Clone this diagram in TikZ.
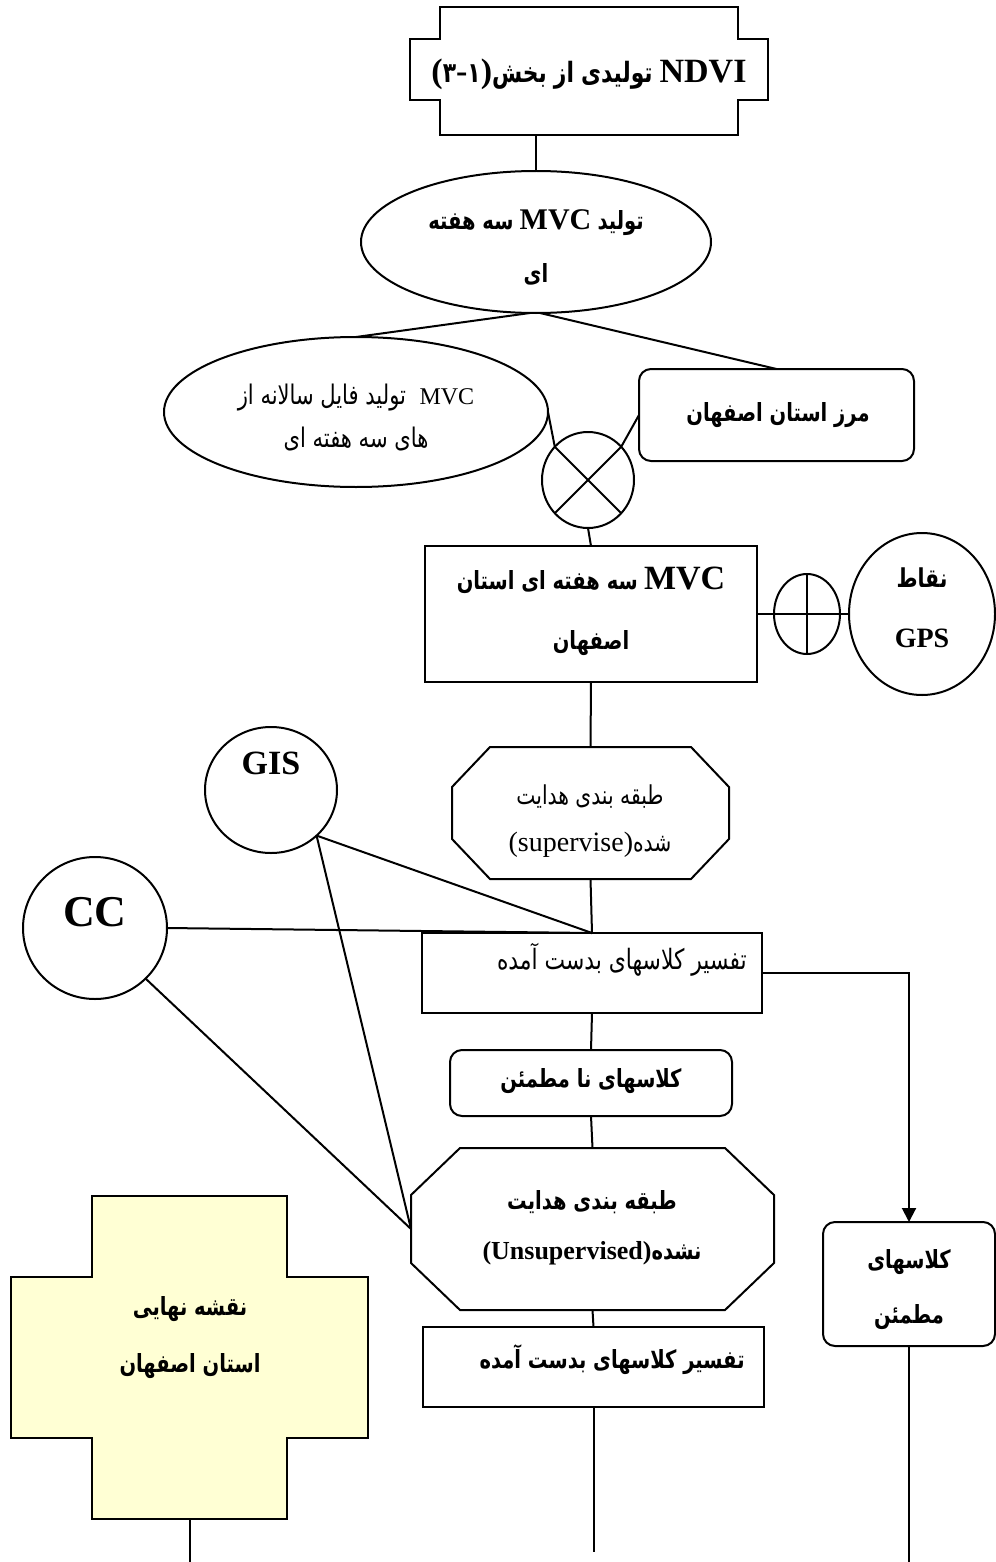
\documentclass[tikz,border=0pt]{standalone}
\usepackage{fontspec}
\setmainfont{Liberation Serif}
\newfontfamily\fa[Script=Arabic,FakeStretch=0.78]{DejaVu Sans}
\TeXXeTstate=1
\usetikzlibrary{calc,arrows.meta,shapes.geometric}
\newcommand\pb[1]{{\fa\bfseries #1}}
\newcommand\pn[1]{{\fa #1}}
\newcommand\lat[1]{\beginL#1\endL}
\newcommand\latb[2]{{\bfseries\fontsize{#1}{#1}\selectfont #2}}
\newcommand\latn[2]{{\fontsize{#1}{#1}\selectfont #2}}
\definecolor{crossfill}{RGB}{255,255,212}
\tikzset{
  ln/.style={line width=1pt},
  shp/.style={draw, line width=1pt, inner sep=0pt, outer sep=0pt},
  ghost/.style={inner sep=0pt, outer sep=0pt},
  txt/.style={inner sep=0pt, align=center},
}
\begin{document}
\begin{tikzpicture}[x=0.5pt,y=-0.5pt]
\useasboundingbox (0,0) rectangle (995,1562);
% ---- shapes ----
\node[ghost, minimum width=149pt, minimum height=64pt] (ndvi) at (589,71) {};
\draw[ln] (ndvi.north west) -- (ndvi.north east) -- ++(0,32) -- ++(30,0) -- ++(0,61) -- ++(-30,0)
  -- (ndvi.south east) -- (ndvi.south west) -- ++(0,-35) -- ++(-30,0) -- ++(0,-61) -- ++(30,0) -- cycle;
\node[shp, ellipse, minimum width=175pt, minimum height=71pt] (ell1) at (536,242) {};
\node[shp, ellipse, minimum width=192pt, minimum height=75pt] (leftell) at (356,412) {};
\node[shp, rounded corners=6pt, minimum width=137.5pt, minimum height=46pt] (nebox) at (776.5,415) {};
\node[shp, ellipse, minimum width=46pt, minimum height=48pt] (xc) at (588,480) {};
\node[shp, minimum width=166pt, minimum height=68pt] (mvc) at (591,614) {};
\node[shp, ellipse, minimum width=33pt, minimum height=40pt] (plus) at (807,614) {};
\node[shp, ellipse, minimum width=73pt, minimum height=81pt] (gps) at (922,614) {};
\node[ghost, minimum width=138.5pt, minimum height=66pt] (oct1) at (590.5,813) {};
\draw[ln] ($(oct1.north west)+(38,0)$) -- ($(oct1.north east)+(-38,0)$) -- ($(oct1.north east)+(0,40)$)
  -- ($(oct1.south east)+(0,-40)$) -- ($(oct1.south east)+(-38,0)$) -- ($(oct1.south west)+(38,0)$)
  -- ($(oct1.south west)+(0,-40)$) -- ($(oct1.north west)+(0,40)$) -- cycle;
\node[shp, ellipse, minimum width=66pt, minimum height=63pt] (gis) at (271,790) {};
\node[shp, ellipse, minimum width=72pt, minimum height=71pt] (cc) at (95,928) {};
\node[shp, minimum width=170pt, minimum height=40pt] (box1) at (592,973) {};
\node[shp, rounded corners=6pt, minimum width=141pt, minimum height=33pt] (nabox) at (591,1083) {};
\node[ghost, minimum width=181.5pt, minimum height=81pt] (oct2) at (592.5,1229) {};
\draw[ln] ($(oct2.north west)+(49,0)$) -- ($(oct2.north east)+(-49,0)$) -- ($(oct2.north east)+(0,47)$)
  -- ($(oct2.south east)+(0,-47)$) -- ($(oct2.south east)+(-49,0)$) -- ($(oct2.south west)+(49,0)$)
  -- ($(oct2.south west)+(0,-47)$) -- ($(oct2.north west)+(0,47)$) -- cycle;
\node[shp, minimum width=170.5pt, minimum height=40pt] (box2) at (593.5,1367) {};
\node[shp, rounded corners=6pt, minimum width=86pt, minimum height=62pt] (certain) at (909,1284) {};
\node[ghost, minimum width=178.5pt, minimum height=161.5pt] (cross) at (189.5,1357.5) {};
\draw[ln, fill=crossfill] ($(cross.north west)+(81,0)$) -- ($(cross.north east)+(-81,0)$) -- ($(cross.north east)+(-81,81)$)
  -- ($(cross.north east)+(0,81)$) -- ($(cross.south east)+(0,-81)$) -- ($(cross.south east)+(-81,-81)$)
  -- ($(cross.south east)+(-81,0)$) -- ($(cross.south west)+(81,0)$) -- ($(cross.south west)+(81,-81)$)
  -- ($(cross.south west)+(0,-81)$) -- ($(cross.north west)+(0,81)$) -- ($(cross.north west)+(81,81)$) -- cycle;
% ---- texts ----
\node[txt, font=\fontsize{14}{18}\selectfont] (ndvit) at (589,74)
  {\beginR\lat{\latb{17}{NDVI}} \pb{تولیدی} \pb{از} \pb{بخش}\lat{\latb{17}{(}\pb{۳}\latb{17}{-}\pb{۱}\latb{17}{)}}\endR};
\node[txt, font=\fontsize{12.5}{26.5}\selectfont] (ell1t) at (536,247)
  {\beginR\pb{تولید} \lat{\latb{15}{MVC}} \pb{سه هفته}\endR\\ \beginR\pb{ای}\endR};
\node[txt, font=\fontsize{13.5}{21.5}\selectfont] (leftellt) at (356,418)
  {\pn{\beginR تولید فایل سالانه از\endR}~~\latn{12}{MVC}\\ \beginR\pn{های سه هفته ای}\endR};
\node[txt, font=\fontsize{12.5}{16}\selectfont] (neboxt) at (778,415) {\beginR\pb{مرز استان اصفهان}\endR};
\node[txt, font=\fontsize{12.5}{30}\selectfont] (mvct) at (591,611)
  {\beginR\lat{\latb{17}{MVC}} \pb{سه هفته ای استان}\endR\\ \beginR\pb{اصفهان}\endR};
\node[txt, font=\fontsize{13}{30}\selectfont] (gpst) at (922,608) {\beginR\pb{نقاط}\endR\\ \latb{14}{GPS}};
\node[txt, font=\fontsize{13}{23.5}\selectfont] (oct1t) at (590,821)
  {\beginR\pn{طبقه بندی هدایت}\endR\\ \beginR\pn{شده}\lat{\latn{14}{(supervise)}}\endR};
\node[txt] (gist) at (271,763) {\latb{17}{GIS}};
\node[txt] (cct) at (95,912) {\latb{22}{CC}};
\node[txt, anchor=east, font=\fontsize{14}{16}\selectfont] (box1t) at (747,960) {\beginR\pn{تفسیر کلاسهای بدست آمده}\endR};
\node[txt, font=\fontsize{12.5}{16}\selectfont] (naboxt) at (591,1081) {\beginR\pb{کلاسهای نا مطمئن}\endR};
\node[txt, font=\fontsize{12.5}{25}\selectfont] (oct2t) at (592,1228)
  {\beginR\pb{طبقه بندی هدایت}\endR\\ \beginR\pb{نشده}\lat{\latb{13}{(Unsupervised)}}\endR};
\node[txt, anchor=east, font=\fontsize{12.5}{16}\selectfont] (box2t) at (745,1360) {\beginR\pb{تفسیر کلاسهای بدست آمده}\endR};
\node[txt, font=\fontsize{12.5}{27.5}\selectfont] (certaint) at (909,1290) {\beginR\pb{کلاسهای}\endR\\ \beginR\pb{مطمئن}\endR};
\node[txt, font=\fontsize{12.5}{28.5}\selectfont] (crosst) at (190,1338) {\beginR\pb{نقشه نهایی}\endR\\ \beginR\pb{استان اصفهان}\endR};
% ---- connectors ----
\coordinate (turn) at (909,973);
\coordinate (box2end) at (593.5,1552);
\coordinate (certainend) at (909,1562);
\coordinate (crossend) at (189.5,1562);
\draw[ln] (ndvi.south -| ell1.north) -- (ell1.north);
\draw[ln] ($(ell1.south)+(-6,0)$) -- (leftell.north);
\draw[ln] ($(ell1.south)+(4,0)$) -- (nebox.north);
\draw[ln] (leftell.east) -- (xc.135);
\draw[ln] (nebox.west) -- (xc.45);
\draw[ln] (xc.135) -- (xc.-45) (xc.45) -- (xc.-135);
\draw[ln] (xc.south) -- (mvc.north);
\draw[ln] (mvc.east) -- (plus.west) -- (plus.east) -- (gps.west);
\draw[ln] (plus.north) -- (plus.south);
\draw[ln] (mvc.south) -- (oct1.north);
\draw[ln] (oct1.south) -- (box1.north);
\draw[ln] (gis.-45) -- (box1.north);
\draw[ln] (gis.-45) -- (oct2.west);
\draw[ln] (cc.east) -- (box1.north);
\draw[ln] (cc.-45) -- (oct2.west);
\draw[ln] (box1.south) -- (nabox.north);
\draw[ln] (nabox.south) -- (oct2.north);
\draw[ln] (oct2.south) -- (box2.north);
\draw[ln] (box2.south) -- (box2end);
\draw[ln, -{Triangle[length=7pt,width=7pt]}] (box1.east) -- (turn) -- (certain.north);
\draw[ln] (certain.south) -- (certainend);
\draw[ln] (cross.south) -- (crossend);
\end{tikzpicture}
\end{document}
